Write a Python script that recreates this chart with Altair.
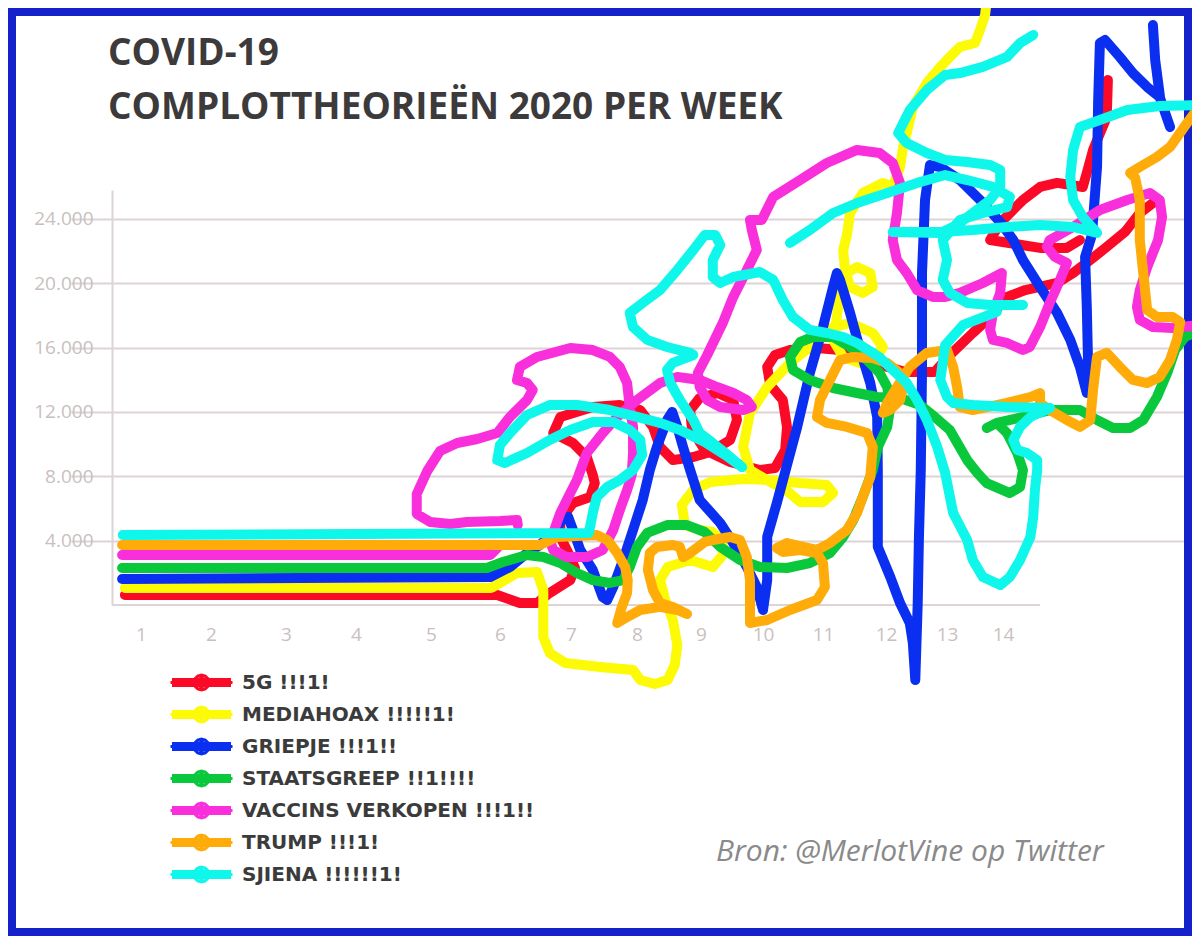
import altair as alt
import pandas as pd

# ---------------- text ----------------
TITLE_LINES = ["COVID-19", "COMPLOTTHEORIEËN 2020 PER WEEK"]
SOURCE_TEXT = "Bron: @MerlotVine op Twitter"

SERIES = ["5G !!!1!", "MEDIAHOAX !!!!!1!", "GRIEPJE !!!1!!", "STAATSGREEP !!1!!!!",
          "VACCINS VERKOPEN !!!1!!", "TRUMP !!!1!", "SJIENA !!!!!!1!"]
COLORS = ["#fb0a28", "#fdfa05", "#0b2ff0", "#0ac83c", "#fa2fdc", "#ffac0a", "#0ff7ea"]

WEEK_TICKS = list(range(1, 15))
COUNT_TICKS = [4000, 8000, 12000, 16000, 20000, 24000]

# ---------------- series (week, count), hand-drawn scribbles ----------------
RED_1_WEEK = [0.77, 5.96, 6.28, 6.52, 6.70, 6.99, 7.06, 6.99, 6.85, 6.85, 7.03, 7.29, 7.36, 7.33, 7.24, 7.03, 6.75, 6.85, 7.33, 7.74, 8.05, 8.25, 8.36, 8.56, 8.88, 9.15, 9.47, 9.58, 9.52, 9.27, 8.98, 8.83, 8.86, 9.06, 9.47, 9.95, 10.2, 10.37, 10.4, 10.33, 10.12, 10.07, 10.2, 10.45, 10.9, 11.27, 11.75, 12.31, 12.8, 13.05, 13.46, 13.77, 14.07, 14.39, 14.95, 15.23, 15.53, 15.82, 16.14, 16.4, 16.63]
RED_1_COUNT = [620, 620, 120, 120, 750, 1550, 2300, 2980, 4230, 5280, 6340, 6710, 7580, 8080, 9200, 10070, 10690, 11690, 12310, 12430, 12120, 11070, 9820, 9010, 9200, 9510, 10260, 11500, 12740, 13180, 12870, 12120, 10880, 9640, 8890, 8390, 8520, 9640, 11070, 12740, 13680, 14800, 15540, 15850, 15980, 15850, 15110, 14490, 14490, 15540, 16910, 17900, 19150, 19580, 20020, 20640, 21450, 22260, 23190, 24370, 24990]
RED_2_WEEK = [15.84, 15.82, 15.58, 15.47, 15.40, 14.95, 14.65, 14.35, 13.95, 13.77, 14.65, 15.12, 15.35]
RED_2_COUNT = [32640, 30340, 28290, 26860, 25990, 26240, 25990, 25180, 23750, 22690, 22200, 22200, 22690]

YELLOW_WEEK = [0.77, 5.86, 5.90, 6.24, 6.52, 6.61, 6.61, 6.70, 6.92, 7.44, 7.94, 8.05, 8.28, 8.48, 8.59, 8.63, 8.56, 8.44, 8.36, 8.48, 8.83, 9.19, 9.35, 9.34, 9.18, 8.98, 8.75, 8.70, 8.88, 9.15, 9.68, 10.12, 10.62, 11.06, 11.16, 11.0, 10.62, 10.42, 10.12, 9.79, 9.68, 9.79, 10.07, 10.45, 10.78, 11.16, 11.43, 11.79, 11.95, 11.86, 11.59, 11.32, 11.16, 11.22, 11.27, 11.38, 11.54, 11.75, 11.79, 11.63, 11.43, 11.35, 11.32, 11.38, 11.43, 11.63, 11.95, 12.11, 12.23, 12.28, 12.34, 12.44, 12.67, 12.89, 13.05, 13.23, 13.5, 13.59, 13.68, 13.71]
YELLOW_COUNT = [1060, 1060, 1120, 1990, 2050, 930, -1990, -2980, -3610, -3850, -4040, -4660, -4910, -4660, -3730, -2490, -930, 310, 1550, 2360, 2800, 2360, 3110, 4040, 4540, 4660, 4970, 6220, 7150, 7650, 7830, 7770, 7580, 7460, 6960, 6400, 6400, 7030, 7650, 8390, 9820, 11940, 13550, 15050, 16040, 17280, 17530, 16910, 16040, 15420, 15050, 15420, 16480, 17900, 19400, 20640, 21010, 20640, 19770, 19400, 19770, 20830, 22070, 23000, 24370, 25610, 26240, 25990, 27230, 28470, 29340, 30960, 32450, 33450, 34070, 34690, 34940, 35750, 36680, 37610]

BLUE_1_WEEK = [0.73, 5.86, 6.14, 6.38, 6.56, 6.75, 6.89, 6.96, 7.03, 7.14, 7.33, 7.48, 7.55, 7.64, 7.79, 7.94, 8.09, 8.20, 8.31, 8.47, 8.55, 8.63, 8.72, 8.83, 8.98, 9.31, 9.52, 9.74, 9.90, 10.0, 10.07, 10.07, 10.23, 10.40, 10.57, 10.78, 11.0, 11.16, 11.22, 11.27, 11.43, 11.59, 11.75, 11.86, 11.87, 11.87, 12.07, 12.23, 12.39, 12.44, 12.48, 12.52, 12.54, 12.57, 12.59, 12.59, 12.64, 12.72, 12.89, 13.23, 13.59, 13.95, 14.18, 14.35, 14.65, 14.95, 15.18, 15.35, 15.47, 15.49, 15.47, 15.44, 15.56, 15.65, 15.67, 15.70, 15.79, 16.05, 16.28, 16.53, 16.75, 16.93]
BLUE_1_COUNT = [1620, 1740, 2360, 3230, 3730, 4480, 5410, 5470, 4660, 3420, 2180, 500, 310, 1120, 2800, 4660, 6530, 8390, 9820, 11500, 12000, 11070, 9820, 8390, 6530, 5100, 3850, 2360, 1120, -310, 1550, 4230, 6340, 8700, 11070, 14420, 17280, 19770, 20640, 20210, 18150, 15850, 13800, 11690, 8390, 3610, 1740, 120, -1120, -2360, -4660, 120, 4230, 8390, 14420, 20640, 25180, 27350, 27230, 26420, 25180, 23810, 22690, 21450, 19770, 18150, 16480, 14800, 13180, 15420, 18530, 21640, 23000, 27230, 31400, 34940, 35130, 34070, 33070, 32200, 31580, 29720]
BLUE_2_WEEK = [16.63, 16.67, 16.75]
BLUE_2_COUNT = [36060, 33880, 31710]

GREEN_WEEK = [0.73, 5.81, 6.04, 6.38, 6.61, 6.85, 7.09, 7.33, 7.59, 7.79, 7.89, 8.0, 8.16, 8.47, 8.78, 9.06, 9.31, 9.63, 9.95, 10.4, 10.78, 11.11, 11.32, 11.48, 11.63, 11.79, 11.87, 12.02, 12.07, 12.02, 11.90, 11.70, 11.43, 11.16, 10.83, 10.62, 10.45, 10.50, 10.78, 11.16, 11.54, 11.86, 12.23, 12.56, 12.80, 13.05, 13.36, 13.54, 13.71, 14.12, 14.30, 14.35, 14.25, 14.07, 13.89, 13.71, 13.89, 14.35, 14.82, 15.35, 15.65, 15.93, 16.23, 16.46, 16.70, 16.88, 17.02, 17.19, 17.46]
GREEN_COUNT = [2300, 2300, 2670, 3110, 2980, 2610, 1990, 1550, 1370, 1550, 2360, 3610, 4480, 4970, 4970, 4540, 3610, 2800, 2360, 2300, 2610, 3230, 4230, 5280, 6710, 8390, 9820, 11070, 12310, 13550, 14420, 15230, 16040, 16660, 16660, 16350, 15420, 14610, 13990, 13490, 13180, 12930, 12870, 12430, 11690, 10880, 9010, 8210, 7580, 6960, 7340, 8390, 9450, 10690, 11320, 11000, 11320, 11690, 12120, 12120, 11500, 11000, 11000, 11500, 12930, 14420, 15850, 16660, 17100]

MAGENTA_1_WEEK = [0.73, 5.86, 5.96]
MAGENTA_1_COUNT = [3110, 3110, 3540]
MAGENTA_2_WEEK = [6.25, 6.24, 6.0, 5.52, 5.28, 4.99, 4.81, 4.81, 4.95, 5.13, 5.38, 5.67, 5.96, 6.14, 6.38, 6.46, 6.38, 6.24, 6.28, 6.52, 6.99, 7.33, 7.59, 7.74, 7.85, 7.89, 7.94, 7.94, 7.92, 7.85, 7.74, 7.64, 7.48, 7.24, 6.94, 6.75, 6.70, 6.75, 6.85, 6.99, 7.09, 7.24, 7.48, 7.70, 8.0, 8.36, 8.63, 8.98, 9.26, 9.52, 9.74, 9.82, 9.68, 9.31, 9.10, 8.98, 8.95, 9.10, 9.35, 9.52, 9.74, 9.90, 9.82, 9.79, 9.98, 10.17, 10.62, 11.06, 11.54, 11.90, 12.11, 12.23, 12.18, 12.11, 12.18, 12.34, 12.51, 12.77, 12.97, 13.23, 13.64, 13.98, 13.95, 13.82, 13.77, 13.82, 14.07, 14.35, 14.47, 14.65, 14.82, 15.0, 15.12, 14.91, 14.77, 14.82, 15.23, 15.70, 16.18, 16.58, 16.75, 16.79, 16.72, 16.53, 16.40, 16.35, 16.40, 16.63, 16.98, 17.46]
MAGENTA_2_COUNT = [4970, 5280, 5220, 5160, 5040, 5160, 5660, 6900, 8330, 9570, 10070, 10320, 10690, 11690, 12740, 13370, 13800, 13990, 14800, 15420, 15980, 15850, 15420, 14800, 13800, 12310, 11070, 9450, 8080, 7150, 5910, 4660, 3420, 2980, 2980, 3420, 4040, 4480, 5720, 6960, 7770, 9450, 10690, 11690, 12740, 13800, 14180, 13990, 13550, 13180, 12740, 12310, 12120, 12310, 12740, 13550, 14420, 15540, 17530, 19150, 20830, 22070, 23310, 23940, 23940, 25370, 26420, 27480, 28290, 28100, 27480, 26240, 24370, 22690, 21450, 20640, 19580, 19150, 19150, 19400, 20020, 20640, 19400, 18150, 17100, 16480, 16290, 15850, 16040, 17280, 18780, 20210, 21260, 21640, 22260, 22690, 23500, 24560, 25180, 25610, 25180, 24120, 22690, 21010, 19580, 18530, 17720, 17280, 17220, 17410]

ORANGE_WEEK = [0.73, 6.56, 6.80, 7.39, 7.55, 7.70, 7.82, 7.86, 7.85, 7.77, 7.70, 7.85, 8.05, 8.36, 8.63, 8.78, 8.56, 8.36, 8.25, 8.17, 8.20, 8.31, 8.56, 8.67, 8.72, 8.83, 9.06, 9.19, 9.47, 9.63, 9.74, 9.79, 9.79, 9.79, 10.07, 10.45, 10.9, 11.03, 11.0, 10.9, 10.62, 10.33, 10.23, 10.40, 10.67, 10.9, 11.11, 11.38, 11.54, 11.63, 11.75, 11.79, 11.70, 11.38, 11.06, 10.9, 10.95, 11.11, 11.27, 11.48, 11.79, 12.02, 12.23, 12.28, 12.23, 12.06, 11.95, 12.02, 12.18, 12.39, 12.67, 13.0, 13.11, 13.18, 13.23, 13.46, 14.07, 14.48, 14.65, 14.65, 14.82, 15.12, 15.35, 15.53, 15.58, 15.65, 15.82, 16.05, 16.28, 16.53, 16.75, 16.93, 17.05, 17.11, 16.98, 16.70, 16.53, 16.46, 16.40, 16.40, 16.32, 16.23, 16.40, 16.70, 16.93, 17.23, 17.40, 17.46]
ORANGE_COUNT = [3730, 3730, 4230, 4350, 4040, 3230, 2360, 1550, 750, -120, -1120, -750, -310, -120, -310, -560, -120, 120, 930, 2180, 3230, 3610, 3730, 3610, 2980, 3230, 3920, 4040, 4230, 4040, 2980, 1550, 120, -1120, -930, -310, 310, 1120, 2610, 3230, 3420, 3300, 3540, 3850, 3610, 3420, 3850, 4660, 5720, 6710, 7960, 9820, 10690, 11070, 11320, 11690, 12740, 13990, 15230, 15420, 15360, 15050, 14420, 13550, 12740, 12120, 11940, 12560, 13550, 14800, 15670, 15850, 14800, 13550, 12310, 12120, 12560, 12930, 13180, 12560, 12120, 11500, 11070, 11500, 13370, 15420, 15670, 14800, 13990, 13800, 14180, 15230, 16480, 17590, 17900, 17900, 18340, 20640, 22690, 25180, 26550, 26860, 27230, 27850, 28470, 29970, 30770, 32330]

CYAN_1_WEEK = [0.74, 7.27, 7.33, 7.39, 7.55, 7.74, 7.94, 8.08, 8.05, 7.89, 7.64, 7.33, 6.99, 6.70, 6.38, 6.07, 5.96, 6.0, 6.14, 6.38, 6.70, 7.09, 7.59, 8.0, 8.36, 8.67, 9.06, 9.39, 9.66]
CYAN_1_COUNT = [4350, 4480, 5720, 6710, 7340, 7770, 8390, 9330, 10260, 10880, 11380, 11380, 10880, 10260, 9450, 8830, 9010, 9950, 10690, 11810, 12430, 12430, 12120, 11690, 11320, 10880, 10130, 9330, 8580]
CYAN_2_WEEK = [9.66, 9.47, 9.19, 8.98, 8.88, 8.67, 8.52, 8.47, 8.56, 8.88, 8.83, 8.47, 8.16, 7.94, 7.89, 8.09, 8.36, 8.63, 8.88, 9.06, 9.23, 9.31, 9.19, 9.19, 9.31, 9.52, 9.95, 10.17, 10.33, 10.5, 10.78, 11.06, 11.32, 11.54, 11.89, 12.11, 12.34, 12.51, 12.67, 12.84, 12.97, 13.11, 13.36, 13.46, 13.64, 13.95, 14.12, 14.30, 14.48, 14.53, 14.56, 14.60, 14.60, 14.42, 14.25, 14.18, 14.30, 14.48, 14.82]
CYAN_2_COUNT = [8580, 9200, 10070, 10690, 11500, 12740, 13800, 14610, 15050, 15540, 15670, 16040, 16480, 17280, 18150, 18780, 19580, 20830, 22070, 23000, 23000, 22380, 21450, 20390, 20020, 20390, 20700, 20210, 18960, 17900, 17100, 16910, 16660, 16290, 15420, 14610, 13800, 12740, 11500, 9820, 8210, 5720, 4040, 2800, 1740, 1240, 1740, 2800, 4230, 5470, 7150, 8390, 9010, 9450, 9640, 10260, 11070, 11690, 12250]
CYAN_3_WEEK = [13.89, 13.29, 12.97, 12.89, 13.0, 13.11, 13.46, 14.07, 14.82]
CYAN_3_COUNT = [18220, 17410, 16160, 13990, 12930, 12560, 12430, 12310, 12250]
CYAN_4_WEEK = [10.45, 10.78, 11.16, 11.54, 12.02, 12.51, 12.97, 13.36, 13.82, 14.12, 14.07, 13.64, 13.23, 12.93, 13.0, 12.93, 13.05, 13.36, 13.77, 14.35]
CYAN_4_COUNT = [22510, 23310, 24370, 24990, 25610, 26240, 26730, 26420, 25990, 25370, 24740, 24370, 23940, 22690, 21450, 20210, 19400, 18780, 18650, 18650]
CYAN_5_WEEK = [14.53, 14.30, 14.07, 13.64, 13.23, 12.97, 12.67, 12.39, 12.20, 12.34, 12.67, 12.97, 13.36, 13.77, 13.95, 13.95, 13.77, 13.46, 13.18, 12.89, 12.11, 12.89, 13.46, 14.07, 14.65, 15.23, 15.65, 15.40, 15.23, 15.18, 15.23, 15.35, 15.70, 16.18, 16.75, 17.46]
CYAN_5_COUNT = [35440, 34940, 34070, 33450, 33070, 32950, 32020, 30770, 29340, 28720, 28100, 27670, 27540, 27350, 27040, 25990, 25180, 24370, 23620, 23130, 23190, 23190, 23310, 23500, 23620, 23500, 23130, 24120, 25180, 26610, 28290, 29720, 30150, 30770, 31020, 31090]

SEGMENTS = [
    (SERIES[0], 1, RED_1_WEEK, RED_1_COUNT),
    (SERIES[0], 2, RED_2_WEEK, RED_2_COUNT),
    (SERIES[1], 1, YELLOW_WEEK, YELLOW_COUNT),
    (SERIES[2], 1, BLUE_1_WEEK, BLUE_1_COUNT),
    (SERIES[2], 2, BLUE_2_WEEK, BLUE_2_COUNT),
    (SERIES[3], 1, GREEN_WEEK, GREEN_COUNT),
    (SERIES[4], 1, MAGENTA_1_WEEK, MAGENTA_1_COUNT),
    (SERIES[4], 2, MAGENTA_2_WEEK, MAGENTA_2_COUNT),
    (SERIES[5], 1, ORANGE_WEEK, ORANGE_COUNT),
    (SERIES[6], 1, CYAN_1_WEEK, CYAN_1_COUNT),
    (SERIES[6], 2, CYAN_2_WEEK, CYAN_2_COUNT),
    (SERIES[6], 3, CYAN_3_WEEK, CYAN_3_COUNT),
    (SERIES[6], 4, CYAN_4_WEEK, CYAN_4_COUNT),
    (SERIES[6], 5, CYAN_5_WEEK, CYAN_5_COUNT),
]

rows = []
for name, seg, weeks, counts in SEGMENTS:
    for i, (w, c) in enumerate(zip(weeks, counts, strict=True)):
        rows.append({"series": name, "seg": f"{name}-{seg}", "week": w, "count": c, "idx": i})
df = pd.DataFrame(rows)

# ---------------- scales / axes ----------------
# hand-drawn x axis: week labels are not evenly spaced -> piecewise linear scale
XSCALE = alt.Scale(type="linear",
                   domain=[0, 1, 2, 3, 4, 5, 6, 7, 8, 9, 10, 11, 12, 13, 14, 18],
                   range=[-41, 29, 99, 174, 244, 319, 388, 459, 525, 589, 651, 711, 774, 835, 891, 1119],
                   zero=False, nice=False)
YSCALE = alt.Scale(domain=[0, 25800], zero=False, nice=False)

AXIS_LABEL = "#c9bfc0"
GRID = "#dcd4d5"

XAXIS = alt.Axis(values=WEEK_TICKS, format="d", grid=False, ticks=False, domain=False,
                 labelFont="Open Sans", labelFontSize=19, labelColor=AXIS_LABEL,
                 labelPadding=20, title=None, labelFlush=False)
YAXIS = alt.Axis(values=COUNT_TICKS, labelExpr="replace(format(datum.value, ','), ',', '.')",
                 grid=True, gridColor=GRID, gridWidth=2, ticks=False,
                 domain=True, domainColor=GRID, domainWidth=2,
                 labelFont="Open Sans", labelFontSize=19, labelColor=AXIS_LABEL,
                 labelPadding=19, title=None)

# legend symbol: thick line with a dot in the middle, built from thin strokes
SYMBOL = ("M-3.1,0L3.1,0M-2.95,-0.3L2.95,-0.3M-2.95,0.3L2.95,0.3"
          "M0.75,0L0.65,0.375L0.375,0.65L0,0.75L-0.375,0.65L-0.65,0.375L-0.75,0"
          "L-0.65,-0.375L-0.375,-0.65L0,-0.75L0.375,-0.65L0.65,-0.375Z"
          "M0.45,0L0.32,0.32L0,0.45L-0.32,0.32L-0.45,0L-0.32,-0.32L0,-0.45L0.32,-0.32Z"
          "M0.15,0L0,0.15L-0.15,0L0,-0.15Z")
LEGEND = alt.Legend(orient="none", legendX=78, legendY=481, title=None,
                    symbolType=SYMBOL, symbolSize=400, symbolStrokeWidth=3,
                    symbolOpacity=1, labelFont="DejaVu Sans", labelFontWeight="bold",
                    labelFontSize=20, labelColor="#3b3b3b", labelOffset=29,
                    labelLimit=500, rowPadding=5, padding=0)
COLOR = alt.Color("series:N", scale=alt.Scale(domain=SERIES, range=COLORS), legend=LEGEND)

X = alt.X("week:Q", scale=XSCALE, axis=XAXIS)
Y = alt.Y("count:Q", scale=YSCALE, axis=YAXIS)

# ---------------- layers ----------------
one = pd.DataFrame({"k": [0]})

border = alt.Chart(one).mark_rect(fillOpacity=0, stroke="#1322c9", strokeWidth=8).encode(
    x=alt.value(-100), x2=alt.value(1076), y=alt.value(-178), y2=alt.value(742))

xline = alt.Chart(one).mark_rule(color=GRID, strokeWidth=2).encode(
    x=alt.X(datum=0.59, scale=XSCALE, axis=XAXIS), x2=alt.X2(datum=14.65),
    y=alt.Y(datum=0, scale=YSCALE, axis=YAXIS))

title1 = alt.Chart(pd.DataFrame({"t": [TITLE_LINES[0]]})).mark_text(
    font="Open Sans", fontWeight="bold", fontSize=37, color="#3d3a3b",
    align="left", baseline="alphabetic").encode(text="t:N", x=alt.value(-4), y=alt.value(-125))
title2 = alt.Chart(pd.DataFrame({"t": [TITLE_LINES[1]]})).mark_text(
    font="Open Sans", fontWeight="bold", fontSize=37, color="#3d3a3b",
    align="left", baseline="alphabetic").encode(text="t:N", x=alt.value(-4), y=alt.value(-71))

source = alt.Chart(pd.DataFrame({"t": [SOURCE_TEXT]})).mark_text(
    font="Open Sans", fontStyle="italic", fontSize=30, color="#8a8a8a",
    align="left", baseline="alphabetic").encode(text="t:N", x=alt.value(604), y=alt.value(671))

lines = []
for name in SERIES:
    lines.append(
        alt.Chart(df).transform_filter(alt.datum.series == name)
        .mark_line(strokeWidth=10, strokeCap="round", strokeJoin="round", clip=False)
        .encode(x=X, y=Y, color=COLOR, detail="seg:N", order="idx:Q")
    )

chart = alt.layer(border, xline, title1, title2, source, *lines).properties(
    width=1023, height=415,
    padding={"left": 104, "top": 182, "right": 57, "bottom": 331},
    autosize=alt.AutoSizeParams(type="none"),
    background="white",
).configure_view(stroke=None)

chart.save("out.html", embed_options={"renderer": "svg", "actions": False})
